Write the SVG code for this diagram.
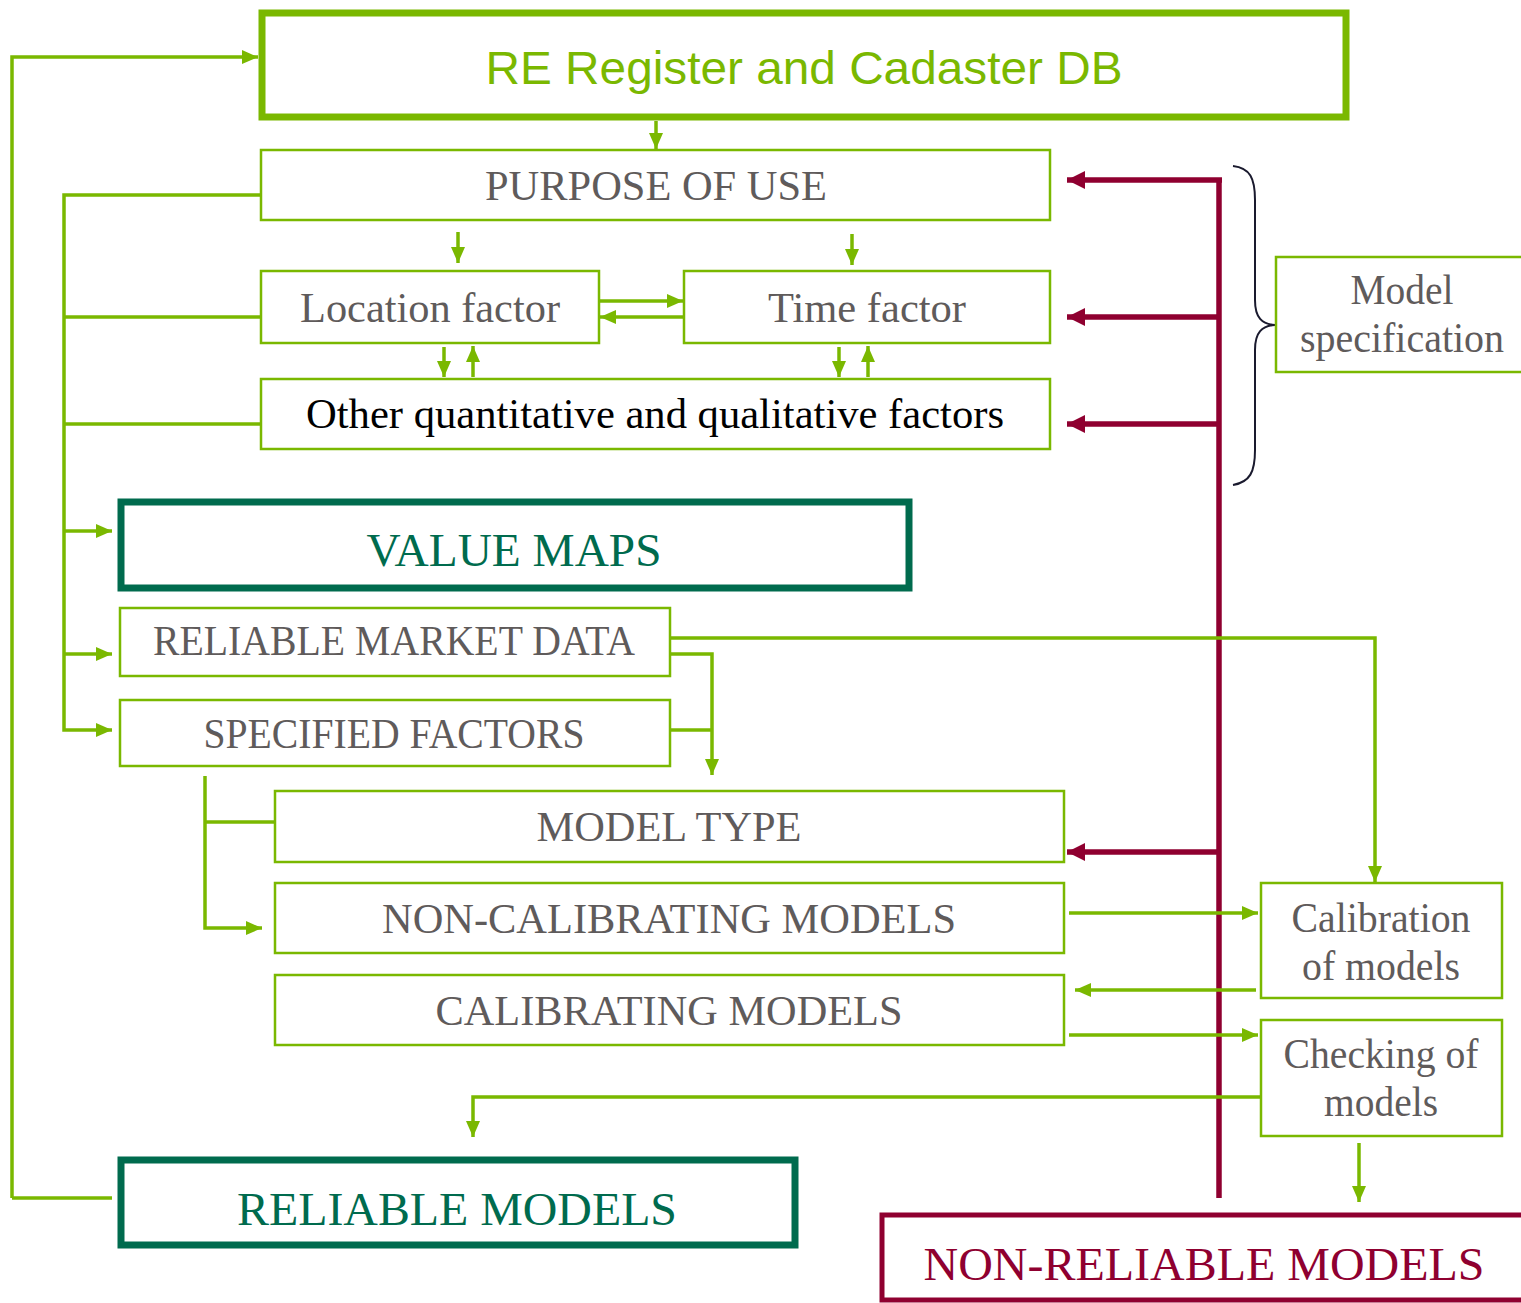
<svg xmlns="http://www.w3.org/2000/svg" width="1521" height="1303" viewBox="0 0 1521 1303">
<style>
.box{fill:#fff;stroke:#7AB800;stroke-width:2.5}
.thick{fill:#fff;stroke:#7AB800;stroke-width:7}
.dk{fill:#fff;stroke:#006B4E;stroke-width:7}
.rd{fill:#fff;stroke:#8F0030;stroke-width:5}
.g{fill:none;stroke:#7AB800;stroke-width:3.5}
.r{fill:none;stroke:#8F0030;stroke-width:5.5}
.t{font-family:"Liberation Serif","Times New Roman",serif;font-size:42px;fill:#5F5B5B;text-anchor:middle}
.big{font-family:"Liberation Serif","Times New Roman",serif;font-size:47px;text-anchor:middle}
</style>
<defs>
<marker id="ga" markerUnits="userSpaceOnUse" markerWidth="18" markerHeight="14" refX="16" refY="7" orient="auto"><path d="M0,0 L16,7 L0,14 Z" fill="#7AB800"/></marker>
<marker id="ra" markerUnits="userSpaceOnUse" markerWidth="20" markerHeight="18" refX="18" refY="9" orient="auto"><path d="M0,0 L18,9 L0,18 Z" fill="#8F0030"/></marker>
</defs>

<g id="connectors-red">
<path class="r" d="M1219,1198 V180"/>
<path class="r" d="M1222,180 H1067" marker-end="url(#ra)"/>
<path class="r" d="M1219,317 H1067" marker-end="url(#ra)"/>
<path class="r" d="M1219,424 H1067" marker-end="url(#ra)"/>
<path class="r" d="M1219,852 H1067" marker-end="url(#ra)"/>
</g>

<g id="connectors">
<path class="g" d="M656,121 V149" marker-end="url(#ga)"/>
<path class="g" d="M12,1198 V57 H258" marker-end="url(#ga)"/>
<path class="g" d="M112,1198 H12"/>
<path class="g" d="M261,195 H64 V730 H112" marker-end="url(#ga)"/>
<path class="g" d="M64,317 H261"/>
<path class="g" d="M64,424 H261"/>
<path class="g" d="M64,531 H112" marker-end="url(#ga)"/>
<path class="g" d="M64,654 H112" marker-end="url(#ga)"/>
<path class="g" d="M458,232 V263" marker-end="url(#ga)"/>
<path class="g" d="M852,234 V265" marker-end="url(#ga)"/>
<path class="g" d="M599,301 H683" marker-end="url(#ga)"/>
<path class="g" d="M684,317 H600" marker-end="url(#ga)"/>
<path class="g" d="M444,347 V377" marker-end="url(#ga)"/>
<path class="g" d="M473,377 V346" marker-end="url(#ga)"/>
<path class="g" d="M839,347 V377" marker-end="url(#ga)"/>
<path class="g" d="M868,377 V346" marker-end="url(#ga)"/>
<path class="g" d="M670,638 H1375 V882" marker-end="url(#ga)"/>
<path class="g" d="M670,654 H712 V775" marker-end="url(#ga)"/>
<path class="g" d="M670,730 H712"/>
<path class="g" d="M205,776 V928 H262" marker-end="url(#ga)"/>
<path class="g" d="M205,822 H275"/>
<path class="g" d="M1069,913 H1258" marker-end="url(#ga)"/>
<path class="g" d="M1256,990 H1075" marker-end="url(#ga)"/>
<path class="g" d="M1069,1035 H1258" marker-end="url(#ga)"/>
<path class="g" d="M1261,1097 H473 V1137" marker-end="url(#ga)"/>
<path class="g" d="M1359,1143 V1202" marker-end="url(#ga)"/>
</g>

<g id="brace">
<path d="M1233,166 C1250,168 1255,178 1255,200 V300 C1255,318 1262,324 1275,325 C1262,326 1255,332 1255,350 V450 C1255,472 1250,482 1233,485" fill="none" stroke="#1a1a2e" stroke-width="2"/>
</g>

<g id="re-register">
<rect class="thick" x="262" y="13" width="1084" height="104"/>
<text x="804" y="84" font-family="'Liberation Sans',Arial,sans-serif" font-size="47" fill="#7AB800" text-anchor="middle" textLength="637" lengthAdjust="spacingAndGlyphs">RE Register and Cadaster DB</text>
</g>
<g id="purpose">
<rect class="box" x="261" y="150" width="789" height="70"/>
<text class="t" x="656" y="200" textLength="342" lengthAdjust="spacingAndGlyphs">PURPOSE OF USE</text>
</g>
<g id="location">
<rect class="box" x="261" y="271" width="338" height="72"/>
<text class="t" x="430" y="322" textLength="260" lengthAdjust="spacingAndGlyphs">Location factor</text>
</g>
<g id="time">
<rect class="box" x="684" y="271" width="366" height="72"/>
<text class="t" x="867" y="322" textLength="198" lengthAdjust="spacingAndGlyphs">Time factor</text>
</g>
<g id="other">
<rect class="box" x="261" y="379" width="789" height="70"/>
<text class="t" x="655" y="428" fill="#000" style="fill:#000" textLength="698" lengthAdjust="spacingAndGlyphs">Other quantitative and qualitative factors</text>
</g>
<g id="model-spec">
<rect class="box" x="1276" y="257" width="260" height="115"/>
<text class="t" x="1402" y="304" textLength="103" lengthAdjust="spacingAndGlyphs">Model</text>
<text class="t" x="1402" y="352" textLength="204" lengthAdjust="spacingAndGlyphs">specification</text>
</g>
<g id="value-maps">
<rect class="dk" x="121" y="502" width="788" height="86"/>
<text class="big" x="514" y="566" fill="#006B4E" textLength="295" lengthAdjust="spacingAndGlyphs">VALUE MAPS</text>
</g>
<g id="market-data">
<rect class="box" x="120" y="608" width="550" height="68"/>
<text class="t" x="394" y="655" textLength="482" lengthAdjust="spacingAndGlyphs">RELIABLE MARKET DATA</text>
</g>
<g id="specified">
<rect class="box" x="120" y="700" width="550" height="66"/>
<text class="t" x="394" y="748" textLength="381" lengthAdjust="spacingAndGlyphs">SPECIFIED FACTORS</text>
</g>
<g id="model-type">
<rect class="box" x="275" y="791" width="789" height="71"/>
<text class="t" x="669" y="841" textLength="265" lengthAdjust="spacingAndGlyphs">MODEL TYPE</text>
</g>
<g id="non-calibrating">
<rect class="box" x="275" y="883" width="789" height="70"/>
<text class="t" x="669" y="933" textLength="574" lengthAdjust="spacingAndGlyphs">NON-CALIBRATING MODELS</text>
</g>
<g id="calibrating">
<rect class="box" x="275" y="975" width="789" height="70"/>
<text class="t" x="669" y="1025" textLength="467" lengthAdjust="spacingAndGlyphs">CALIBRATING MODELS</text>
</g>
<g id="calibration">
<rect class="box" x="1261" y="883" width="241" height="115"/>
<text class="t" x="1381" y="932" textLength="179" lengthAdjust="spacingAndGlyphs">Calibration</text>
<text class="t" x="1381" y="980" textLength="158" lengthAdjust="spacingAndGlyphs">of models</text>
</g>
<g id="checking">
<rect class="box" x="1261" y="1020" width="241" height="116"/>
<text class="t" x="1381" y="1068" textLength="195" lengthAdjust="spacingAndGlyphs">Checking of</text>
<text class="t" x="1381" y="1116" textLength="114" lengthAdjust="spacingAndGlyphs">models</text>
</g>
<g id="reliable-models">
<rect class="dk" x="121" y="1160" width="674" height="85"/>
<text class="big" x="457" y="1225" fill="#006B4E" textLength="440" lengthAdjust="spacingAndGlyphs">RELIABLE MODELS</text>
</g>
<g id="non-reliable">
<rect class="rd" x="882" y="1215" width="660" height="85"/>
<text class="big" x="1204" y="1280" fill="#8F0030" textLength="561" lengthAdjust="spacingAndGlyphs">NON-RELIABLE MODELS</text>
</g>
</svg>
